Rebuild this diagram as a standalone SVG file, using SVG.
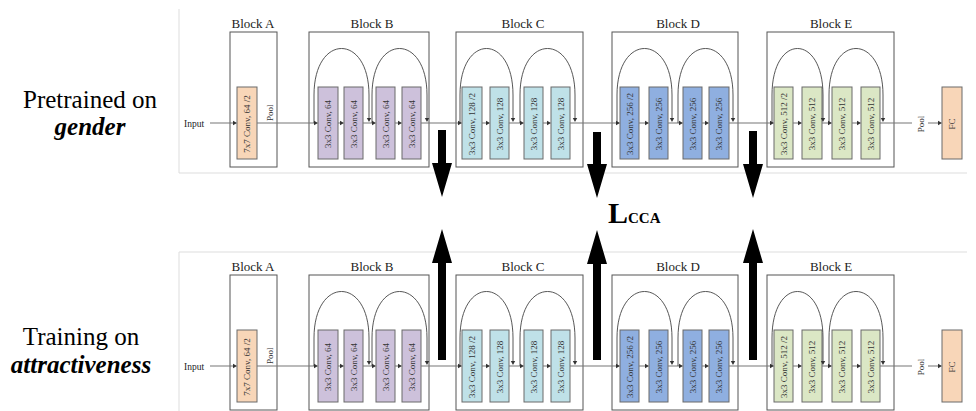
<svg xmlns="http://www.w3.org/2000/svg" width="976" height="411" viewBox="0 0 976 411" font-family="Liberation Serif, serif">
<style>
.blk{fill:none;stroke:#555;stroke-width:1}
.bl{font-family:'Liberation Serif', serif;font-size:13px;fill:#222;text-anchor:middle}
.bx{stroke:#6a6a6a;stroke-width:1}
.fa{fill:#f8d6b8}
.fp{fill:#cdc1db}
.fc{fill:#bfe1e8}
.fd{fill:#8fafe0}
.fe{fill:#dbe7c5}
.bt{font-family:'Liberation Serif', serif;font-size:9px;fill:#333;text-anchor:middle}
.bs{font-family:'Liberation Serif', serif;font-size:9px;fill:#333;text-anchor:start}
.sm{font-family:'Liberation Serif', serif;font-size:9.5px;fill:#222}
.ln{fill:none;stroke:#777;stroke-width:1.2}
.arc{fill:none;stroke:#444;stroke-width:0.9}
.ah{fill:#333}
.pan{fill:none;stroke:#ddd;stroke-width:1}
.big{fill:#000}
.lab{font-family:'Liberation Serif', serif;font-size:25px;fill:#000;text-anchor:middle}
.labi{font-family:'Liberation Serif', serif;font-size:25px;fill:#000;text-anchor:middle;font-weight:bold;font-style:italic}
.lc{font-family:'Liberation Serif', serif;font-weight:bold;fill:#000}
</style>
<rect width="976" height="411" fill="#fff"/>

<g id="label-top">
<text class="lab" x="90" y="108">Pretrained on</text>
<text class="labi" x="90" y="135">gender</text>
</g>
<g id="label-bottom">
<text class="lab" x="81" y="345">Training on</text>
<text class="labi" x="81" y="373">attractiveness</text>
</g>

<g id="lcca">
<text class="lc" x="608" y="223" font-size="30">L</text>
<text class="lc" x="628" y="223" font-size="15">CCA</text>
</g>

<g id="top-net">
<path class="pan" d="M179,9 V173 H967"/>
<text class="sm" x="184" y="127">Input</text>
<g id="t-blockA"><rect class="blk" x="230" y="32" width="47" height="135"/><text class="bl" x="253" y="28">Block A</text>
<g id="t-a1"><rect class="bx fa" x="237" y="87" width="20" height="72"/><text class="bt" transform="translate(247,124) rotate(-90)" y="3">7x7 Conv, 64 /2</text></g>
<text class="bs" transform="translate(270,121) rotate(-90)" y="3">Pool</text>
</g>
<g id="t-blockB"><rect class="blk" x="309" y="32" width="120" height="135"/><text class="bl" x="372" y="28">Block B</text>
<g id="t-b1"><rect class="bx fp" x="318" y="87" width="20" height="72"/><text class="bt" transform="translate(328,124) rotate(-90)" y="3">3x3 Conv, 64</text></g>
<g id="t-b2"><rect class="bx fp" x="344" y="87" width="19" height="72"/><text class="bt" transform="translate(353.5,124) rotate(-90)" y="3">3x3 Conv, 64</text></g>
<g id="t-b3"><rect class="bx fp" x="376" y="87" width="19" height="72"/><text class="bt" transform="translate(385.5,124) rotate(-90)" y="3">3x3 Conv, 64</text></g>
<g id="t-b4"><rect class="bx fp" x="402" y="87" width="19" height="72"/><text class="bt" transform="translate(411.5,124) rotate(-90)" y="3">3x3 Conv, 64</text></g>
</g>
<g id="t-blockC"><rect class="blk" x="456" y="32" width="127" height="135"/><text class="bl" x="523" y="28">Block C</text>
<g id="t-c1"><rect class="bx fc" x="462" y="87" width="20" height="72"/><text class="bt" transform="translate(472,124) rotate(-90)" y="3">3x3 Conv, 128 /2</text></g>
<g id="t-c2"><rect class="bx fc" x="490" y="87" width="19" height="72"/><text class="bt" transform="translate(499.5,124) rotate(-90)" y="3">3x3 Conv, 128</text></g>
<g id="t-c3"><rect class="bx fc" x="524" y="87" width="19" height="72"/><text class="bt" transform="translate(533.5,124) rotate(-90)" y="3">3x3 Conv, 128</text></g>
<g id="t-c4"><rect class="bx fc" x="551" y="87" width="19" height="72"/><text class="bt" transform="translate(560.5,124) rotate(-90)" y="3">3x3 Conv, 128</text></g>
</g>
<g id="t-blockD"><rect class="blk" x="612" y="32" width="126" height="135"/><text class="bl" x="678" y="28">Block D</text>
<g id="t-d1"><rect class="bx fd" x="620" y="87" width="19" height="72"/><text class="bt" transform="translate(629.5,124) rotate(-90)" y="3">3x3 Conv, 256 /2</text></g>
<g id="t-d2"><rect class="bx fd" x="649" y="87" width="19" height="72"/><text class="bt" transform="translate(658.5,124) rotate(-90)" y="3">3x3 Conv, 256</text></g>
<g id="t-d3"><rect class="bx fd" x="683" y="87" width="19" height="72"/><text class="bt" transform="translate(692.5,124) rotate(-90)" y="3">3x3 Conv, 256</text></g>
<g id="t-d4"><rect class="bx fd" x="709" y="87" width="20" height="72"/><text class="bt" transform="translate(719,124) rotate(-90)" y="3">3x3 Conv, 256</text></g>
</g>
<g id="t-blockE"><rect class="blk" x="767" y="32" width="127" height="135"/><text class="bl" x="831" y="28">Block E</text>
<g id="t-e1"><rect class="bx fe" x="774" y="87" width="19" height="72"/><text class="bt" transform="translate(783.5,124) rotate(-90)" y="3">3x3 Conv, 512 /2</text></g>
<g id="t-e2"><rect class="bx fe" x="802" y="87" width="20" height="72"/><text class="bt" transform="translate(812,124) rotate(-90)" y="3">3x3 Conv, 512</text></g>
<g id="t-e3"><rect class="bx fe" x="832" y="87" width="20" height="72"/><text class="bt" transform="translate(842,124) rotate(-90)" y="3">3x3 Conv, 512</text></g>
<g id="t-e4"><rect class="bx fe" x="861" y="87" width="19" height="72"/><text class="bt" transform="translate(870.5,124) rotate(-90)" y="3">3x3 Conv, 512</text></g>
</g>
<text class="bt" transform="translate(921,124) rotate(-90)" y="3">Pool</text>
<g id="t-fc"><rect class="bx fa" x="942" y="87" width="20" height="72"/><text class="bt" transform="translate(952,124) rotate(-90)" y="3">FC</text></g>
<g id="t-connectors">
<path class="ln" d="M210,123 H234 M257,123 H315 M338,123 H341 M363,123 H373 M395,123 H399 M421,123 H459 M482,123 H487 M509,123 H521 M543,123 H548 M570,123 H617 M639,123 H646 M668,123 H680 M702,123 H706 M729,123 H771 M793,123 H799 M822,123 H829 M852,123 H858 M880,123 H912 M928,123 H939"/>
<path class="arc" d="M314,123 V95 C314,33 369,33 369,95 V119 M372,123 V95 C372,33 427,33 427,95 V119 M460,123 V95 C460,33 513,33 513,95 V119 M520,123 V95 C520,33 575,33 575,95 V119 M617,123 V95 C617,33 672,33 672,95 V119 M678,123 V95 C678,33 733,33 733,95 V119 M772,123 V95 C772,33 823,33 823,95 V119 M829,123 V95 C829,33 883,33 883,95 V119"/>
<path class="ah" d="M233,120.8 L237,123 L233,125.2Z M314,120.8 L318,123 L314,125.2Z M340,120.8 L344,123 L340,125.2Z M372,120.8 L376,123 L372,125.2Z M398,120.8 L402,123 L398,125.2Z M458,120.8 L462,123 L458,125.2Z M486,120.8 L490,123 L486,125.2Z M520,120.8 L524,123 L520,125.2Z M547,120.8 L551,123 L547,125.2Z M616,120.8 L620,123 L616,125.2Z M645,120.8 L649,123 L645,125.2Z M679,120.8 L683,123 L679,125.2Z M705,120.8 L709,123 L705,125.2Z M770,120.8 L774,123 L770,125.2Z M798,120.8 L802,123 L798,125.2Z M828,120.8 L832,123 L828,125.2Z M857,120.8 L861,123 L857,125.2Z M938,120.8 L942,123 L938,125.2Z"/>
<path class="ah" d="M366.8,118 L369,122 L371.2,118Z M424.8,118 L427,122 L429.2,118Z M510.8,118 L513,122 L515.2,118Z M572.8,118 L575,122 L577.2,118Z M669.8,118 L672,122 L674.2,118Z M730.8,118 L733,122 L735.2,118Z M820.8,118 L823,122 L825.2,118Z M880.8,118 L883,122 L885.2,118Z"/>
</g>
</g>

<g id="bottom-net" transform="translate(0,243)">
<path class="pan" d="M179,170 V9 H967"/>
<text class="sm" x="184" y="127">Input</text>
<g id="b-blockA"><rect class="blk" x="230" y="32" width="47" height="135"/><text class="bl" x="253" y="28">Block A</text>
<g id="b-a1"><rect class="bx fa" x="237" y="87" width="20" height="72"/><text class="bt" transform="translate(247,124) rotate(-90)" y="3">7x7 Conv, 64 /2</text></g>
<text class="bs" transform="translate(270,121) rotate(-90)" y="3">Pool</text>
</g>
<g id="b-blockB"><rect class="blk" x="309" y="32" width="120" height="135"/><text class="bl" x="372" y="28">Block B</text>
<g id="b-b1"><rect class="bx fp" x="318" y="87" width="20" height="72"/><text class="bt" transform="translate(328,124) rotate(-90)" y="3">3x3 Conv, 64</text></g>
<g id="b-b2"><rect class="bx fp" x="344" y="87" width="19" height="72"/><text class="bt" transform="translate(353.5,124) rotate(-90)" y="3">3x3 Conv, 64</text></g>
<g id="b-b3"><rect class="bx fp" x="376" y="87" width="19" height="72"/><text class="bt" transform="translate(385.5,124) rotate(-90)" y="3">3x3 Conv, 64</text></g>
<g id="b-b4"><rect class="bx fp" x="402" y="87" width="19" height="72"/><text class="bt" transform="translate(411.5,124) rotate(-90)" y="3">3x3 Conv, 64</text></g>
</g>
<g id="b-blockC"><rect class="blk" x="456" y="32" width="127" height="135"/><text class="bl" x="523" y="28">Block C</text>
<g id="b-c1"><rect class="bx fc" x="462" y="87" width="20" height="72"/><text class="bt" transform="translate(472,124) rotate(-90)" y="3">3x3 Conv, 128 /2</text></g>
<g id="b-c2"><rect class="bx fc" x="490" y="87" width="19" height="72"/><text class="bt" transform="translate(499.5,124) rotate(-90)" y="3">3x3 Conv, 128</text></g>
<g id="b-c3"><rect class="bx fc" x="524" y="87" width="19" height="72"/><text class="bt" transform="translate(533.5,124) rotate(-90)" y="3">3x3 Conv, 128</text></g>
<g id="b-c4"><rect class="bx fc" x="551" y="87" width="19" height="72"/><text class="bt" transform="translate(560.5,124) rotate(-90)" y="3">3x3 Conv, 128</text></g>
</g>
<g id="b-blockD"><rect class="blk" x="612" y="32" width="126" height="135"/><text class="bl" x="678" y="28">Block D</text>
<g id="b-d1"><rect class="bx fd" x="620" y="87" width="19" height="72"/><text class="bt" transform="translate(629.5,124) rotate(-90)" y="3">3x3 Conv, 256 /2</text></g>
<g id="b-d2"><rect class="bx fd" x="649" y="87" width="19" height="72"/><text class="bt" transform="translate(658.5,124) rotate(-90)" y="3">3x3 Conv, 256</text></g>
<g id="b-d3"><rect class="bx fd" x="683" y="87" width="19" height="72"/><text class="bt" transform="translate(692.5,124) rotate(-90)" y="3">3x3 Conv, 256</text></g>
<g id="b-d4"><rect class="bx fd" x="709" y="87" width="20" height="72"/><text class="bt" transform="translate(719,124) rotate(-90)" y="3">3x3 Conv, 256</text></g>
</g>
<g id="b-blockE"><rect class="blk" x="767" y="32" width="127" height="135"/><text class="bl" x="831" y="28">Block E</text>
<g id="b-e1"><rect class="bx fe" x="774" y="87" width="19" height="72"/><text class="bt" transform="translate(783.5,124) rotate(-90)" y="3">3x3 Conv, 512 /2</text></g>
<g id="b-e2"><rect class="bx fe" x="802" y="87" width="20" height="72"/><text class="bt" transform="translate(812,124) rotate(-90)" y="3">3x3 Conv, 512</text></g>
<g id="b-e3"><rect class="bx fe" x="832" y="87" width="20" height="72"/><text class="bt" transform="translate(842,124) rotate(-90)" y="3">3x3 Conv, 512</text></g>
<g id="b-e4"><rect class="bx fe" x="861" y="87" width="19" height="72"/><text class="bt" transform="translate(870.5,124) rotate(-90)" y="3">3x3 Conv, 512</text></g>
</g>
<text class="bt" transform="translate(921,124) rotate(-90)" y="3">Pool</text>
<g id="b-fc"><rect class="bx fa" x="942" y="87" width="20" height="72"/><text class="bt" transform="translate(952,124) rotate(-90)" y="3">FC</text></g>
<g id="b-connectors">
<path class="ln" d="M210,123 H234 M257,123 H315 M338,123 H341 M363,123 H373 M395,123 H399 M421,123 H459 M482,123 H487 M509,123 H521 M543,123 H548 M570,123 H617 M639,123 H646 M668,123 H680 M702,123 H706 M729,123 H771 M793,123 H799 M822,123 H829 M852,123 H858 M880,123 H912 M928,123 H939"/>
<path class="arc" d="M314,123 V95 C314,33 369,33 369,95 V119 M372,123 V95 C372,33 427,33 427,95 V119 M460,123 V95 C460,33 513,33 513,95 V119 M520,123 V95 C520,33 575,33 575,95 V119 M617,123 V95 C617,33 672,33 672,95 V119 M678,123 V95 C678,33 733,33 733,95 V119 M772,123 V95 C772,33 823,33 823,95 V119 M829,123 V95 C829,33 883,33 883,95 V119"/>
<path class="ah" d="M233,120.8 L237,123 L233,125.2Z M314,120.8 L318,123 L314,125.2Z M340,120.8 L344,123 L340,125.2Z M372,120.8 L376,123 L372,125.2Z M398,120.8 L402,123 L398,125.2Z M458,120.8 L462,123 L458,125.2Z M486,120.8 L490,123 L486,125.2Z M520,120.8 L524,123 L520,125.2Z M547,120.8 L551,123 L547,125.2Z M616,120.8 L620,123 L616,125.2Z M645,120.8 L649,123 L645,125.2Z M679,120.8 L683,123 L679,125.2Z M705,120.8 L709,123 L705,125.2Z M770,120.8 L774,123 L770,125.2Z M798,120.8 L802,123 L798,125.2Z M828,120.8 L832,123 L828,125.2Z M857,120.8 L861,123 L857,125.2Z M938,120.8 L942,123 L938,125.2Z"/>
<path class="ah" d="M366.8,118 L369,122 L371.2,118Z M424.8,118 L427,122 L429.2,118Z M510.8,118 L513,122 L515.2,118Z M572.8,118 L575,122 L577.2,118Z M669.8,118 L672,122 L674.2,118Z M730.8,118 L733,122 L735.2,118Z M820.8,118 L823,122 L825.2,118Z M880.8,118 L883,122 L885.2,118Z"/>
</g>
</g>

<g id="cca-arrows">
<polygon class="big" points="438,130 446,130 446,163 452,163 442,197 432,163 438,163"/>
<polygon class="big" points="593,132 601,132 601,164 607,164 597,198 587,164 593,164"/>
<polygon class="big" points="749,131 757,131 757,164 763,164 753,198 743,164 749,164"/>
<polygon class="big" points="438,360 446,360 446,263 452,263 442,229 432,263 438,263"/>
<polygon class="big" points="593,360 601,360 601,264 607,264 597,230 587,264 593,264"/>
<polygon class="big" points="749,360 757,360 757,263 763,263 753,229 743,263 749,263"/>
</g>
</svg>
